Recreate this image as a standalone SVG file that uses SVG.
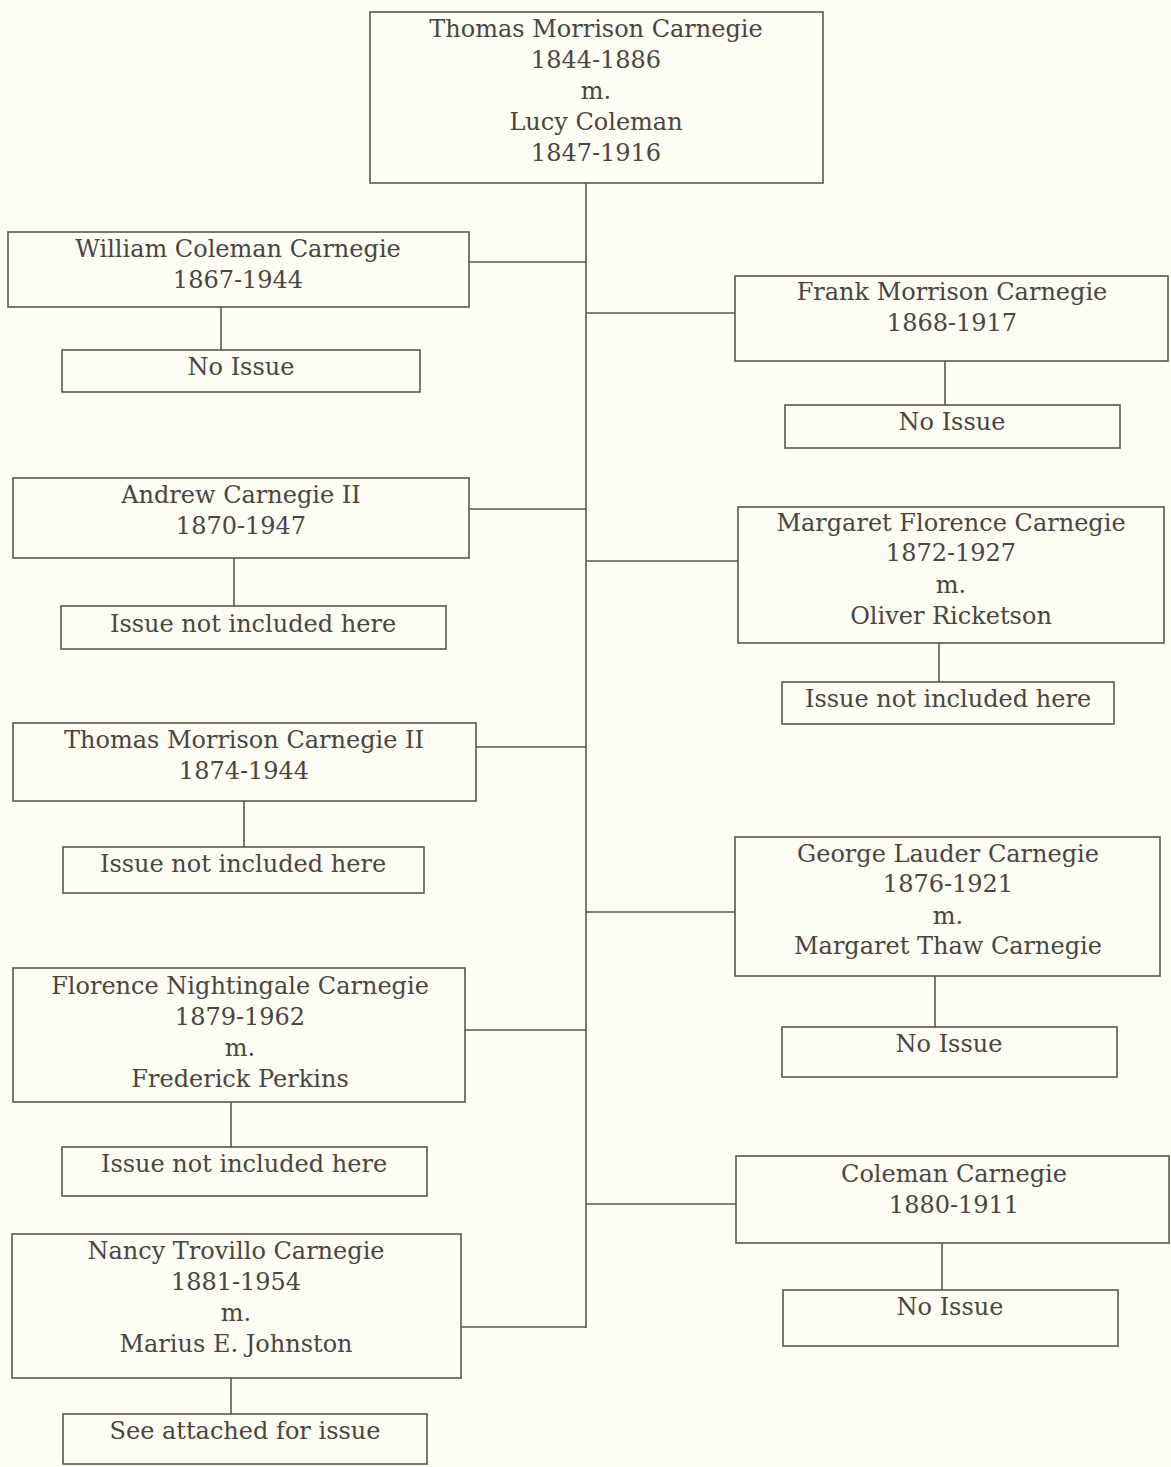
<svg xmlns="http://www.w3.org/2000/svg" width="1171" height="1467" viewBox="0 0 1171 1467">
<style>
.b{fill:none;stroke:#5a5550;stroke-width:1.6}
.c{fill:none;stroke:#5a5550;stroke-width:1.6}
text{font-family:"DejaVu Serif","Liberation Serif",serif;font-size:24px;fill:#4a4541;text-anchor:middle}
</style>
<rect width="1171" height="1467" fill="#fdfdf3"/>
<g id="connectors">
<path class="c" d="M586 183V1328"/>
<path class="c" d="M469 262H586"/>
<path class="c" d="M469 509H586"/>
<path class="c" d="M476 747H586"/>
<path class="c" d="M465 1030H586"/>
<path class="c" d="M461 1327H586"/>
<path class="c" d="M586 313H735"/>
<path class="c" d="M586 561H738"/>
<path class="c" d="M586 912H735"/>
<path class="c" d="M586 1204H736"/>
<path class="c" d="M221 307V350"/>
<path class="c" d="M234 558V606"/>
<path class="c" d="M244 801V847"/>
<path class="c" d="M231 1102V1147"/>
<path class="c" d="M231 1378V1414"/>
<path class="c" d="M945 361V405"/>
<path class="c" d="M939 643V682"/>
<path class="c" d="M935 976V1027"/>
<path class="c" d="M942 1243V1290"/>
</g>
<g id="root">
<rect class="b" x="370" y="12" width="453" height="171"/>
<text x="596" y="37">Thomas Morrison Carnegie</text>
<text x="596" y="68">1844-1886</text>
<text x="596" y="99">m.</text>
<text x="596" y="130">Lucy Coleman</text>
<text x="596" y="161">1847-1916</text>
</g>
<g id="william">
<rect class="b" x="8" y="232" width="461" height="75"/>
<text x="238" y="257">William Coleman Carnegie</text>
<text x="238" y="288">1867-1944</text>
</g>
<g id="william-issue">
<rect class="b" x="62" y="350" width="358" height="42"/>
<text x="241" y="375">No Issue</text>
</g>
<g id="andrew">
<rect class="b" x="13" y="478" width="456" height="80"/>
<text x="241" y="503">Andrew Carnegie II</text>
<text x="241" y="534">1870-1947</text>
</g>
<g id="andrew-issue">
<rect class="b" x="61" y="606" width="385" height="43"/>
<text x="253" y="632">Issue not included here</text>
</g>
<g id="thomas2">
<rect class="b" x="13" y="723" width="463" height="78"/>
<text x="244" y="748">Thomas Morrison Carnegie II</text>
<text x="244" y="779">1874-1944</text>
</g>
<g id="thomas2-issue">
<rect class="b" x="63" y="847" width="361" height="46"/>
<text x="243" y="872">Issue not included here</text>
</g>
<g id="florence">
<rect class="b" x="13" y="968" width="452" height="134"/>
<text x="240" y="994">Florence Nightingale Carnegie</text>
<text x="240" y="1025">1879-1962</text>
<text x="240" y="1056">m.</text>
<text x="240" y="1087">Frederick Perkins</text>
</g>
<g id="florence-issue">
<rect class="b" x="62" y="1147" width="365" height="49"/>
<text x="244" y="1172">Issue not included here</text>
</g>
<g id="nancy">
<rect class="b" x="12" y="1234" width="449" height="144"/>
<text x="236" y="1259">Nancy Trovillo Carnegie</text>
<text x="236" y="1290">1881-1954</text>
<text x="236" y="1321">m.</text>
<text x="236" y="1352">Marius E. Johnston</text>
</g>
<g id="nancy-issue">
<rect class="b" x="63" y="1414" width="364" height="50"/>
<text x="245" y="1439">See attached for issue</text>
</g>
<g id="frank">
<rect class="b" x="735" y="276" width="433" height="85"/>
<text x="952" y="300">Frank Morrison Carnegie</text>
<text x="952" y="331">1868-1917</text>
</g>
<g id="frank-issue">
<rect class="b" x="785" y="405" width="335" height="43"/>
<text x="952" y="430">No Issue</text>
</g>
<g id="margaret">
<rect class="b" x="738" y="507" width="426" height="136"/>
<text x="951" y="531">Margaret Florence Carnegie</text>
<text x="951" y="561">1872-1927</text>
<text x="951" y="593">m.</text>
<text x="951" y="624">Oliver Ricketson</text>
</g>
<g id="margaret-issue">
<rect class="b" x="782" y="682" width="332" height="42"/>
<text x="948" y="707">Issue not included here</text>
</g>
<g id="george">
<rect class="b" x="735" y="837" width="425" height="139"/>
<text x="948" y="862">George Lauder Carnegie</text>
<text x="948" y="892">1876-1921</text>
<text x="948" y="924">m.</text>
<text x="948" y="954">Margaret Thaw Carnegie</text>
</g>
<g id="george-issue">
<rect class="b" x="782" y="1027" width="335" height="50"/>
<text x="949" y="1052">No Issue</text>
</g>
<g id="coleman">
<rect class="b" x="736" y="1156" width="433" height="87"/>
<text x="954" y="1182">Coleman Carnegie</text>
<text x="954" y="1213">1880-1911</text>
</g>
<g id="coleman-issue">
<rect class="b" x="783" y="1290" width="335" height="56"/>
<text x="950" y="1315">No Issue</text>
</g>
</svg>
